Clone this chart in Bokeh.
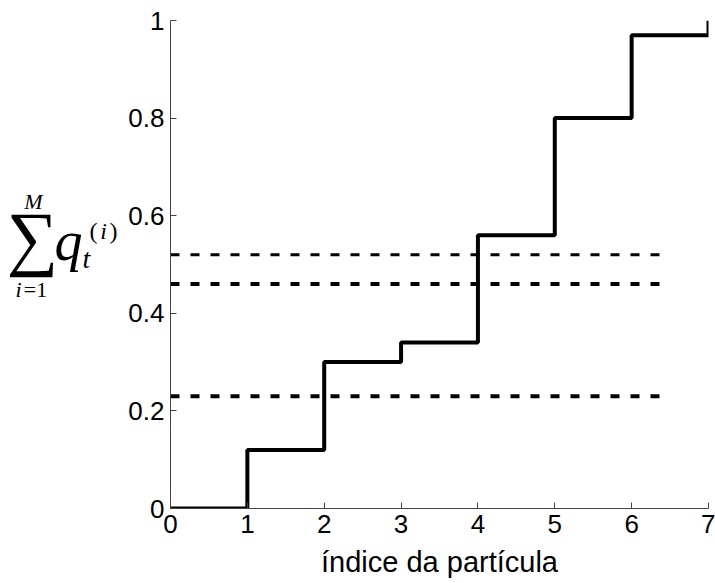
from bokeh.plotting import figure
from bokeh.models import FixedTicker, Range1d
from bokeh.layouts import row
from bokeh.core.properties import value
from bokeh.embed import file_html
from bokeh.resources import INLINE

# data
particle_index = [0, 1, 2, 3, 4, 5, 6, 7]
cum_weight = [0.0, 0.12, 0.30, 0.34, 0.56, 0.80, 0.97, 1.0]
thresholds = [0.52, 0.46, 0.23]
threshold_widths = [3, 4, 4]
threshold_end = 6.45
x_ticks = [0, 1, 2, 3, 4, 5, 6, 7]
y_ticks = [0, 0.2, 0.4, 0.6, 0.8, 1.0]
y_tick_labels = ["0", "0.2", "0.4", "0.6", "0.8", "1"]

# y-axis math label pieces: sum_{i=1}^{M} q_t^{(i)}
label_texts = ["M", "∑", "i", "=1", "q", "t", "(", "i", ")"]

W, H = 715, 583
LW = 120           # width of the label panel
L, R, T, B = 50, 7, 20, 75

p = figure(width=W - LW, height=H, output_backend="svg", toolbar_location=None,
           x_range=Range1d(0, 7), y_range=Range1d(0, 1),
           min_border_left=L, min_border_right=R, min_border_top=T, min_border_bottom=B)
p.outline_line_color = None
p.xgrid.visible = False
p.ygrid.visible = False

for ax in (p.xaxis[0], p.yaxis[0]):
    ax.axis_line_color = "#444444"
    ax.axis_line_width = 1
    ax.major_tick_in = 6
    ax.major_tick_out = 0
    ax.minor_tick_line_color = None
    ax.major_tick_line_color = "#444444"
    ax.major_label_text_font = "Liberation Sans"
    ax.major_label_text_font_size = "26px"
    ax.major_label_text_color = "black"

p.xaxis[0].ticker = FixedTicker(ticks=x_ticks)
p.yaxis[0].ticker = FixedTicker(ticks=y_ticks)
p.yaxis[0].major_label_overrides = {t: s for t, s in zip(y_ticks, y_tick_labels)}
p.xaxis[0].major_label_standoff = 6
p.yaxis[0].major_label_standoff = 6

p.xaxis[0].axis_label = "índice da partícula"
p.xaxis[0].axis_label_text_font = "Liberation Sans"
p.xaxis[0].axis_label_text_font_size = "29px"
p.xaxis[0].axis_label_text_font_style = "normal"
p.xaxis[0].axis_label_text_color = "black"
p.xaxis[0].axis_label_standoff = 10

for y, w in zip(thresholds, threshold_widths):
    p.segment(x0=0, y0=y, x1=threshold_end, y1=y, line_color="black",
              line_width=w, line_dash="9 11")

p.step(particle_index, cum_weight, mode="after", line_color="black", line_width=4)

# label panel (pixel coordinates, y downward); its frame is aligned with p's frame
q = figure(width=LW, height=H, output_backend="svg", toolbar_location=None,
           x_range=Range1d(0, LW), y_range=Range1d(H - B, T),
           x_axis_location=None, y_axis_location=None,
           min_border_left=0, min_border_right=0, min_border_top=T, min_border_bottom=B)
q.xgrid.visible = False
q.ygrid.visible = False
q.outline_line_color = None

lx = [33, 32, 18, 35, 68, 86, 93, 103, 113]
ly = [201, 237, 289, 289, 240, 258, 230, 230, 230]
sizes = ["22px", "72px", "22px", "22px", "56px", "28px", "24px", "24px", "24px"]
styles = ["italic", "normal", "italic", "normal", "italic", "italic",
          "normal", "italic", "normal"]
for t, x, y, s, st in zip(label_texts, lx, ly, sizes, styles):
    q.text(x=[x], y=[y], text=[t], text_font=value("Liberation Serif"),
           text_font_size=s, text_font_style=st, text_align="center",
           text_baseline="middle", text_color="black")

layout = row(q, p, spacing=0)
open("out.html", "w").write(file_html(layout, INLINE))
